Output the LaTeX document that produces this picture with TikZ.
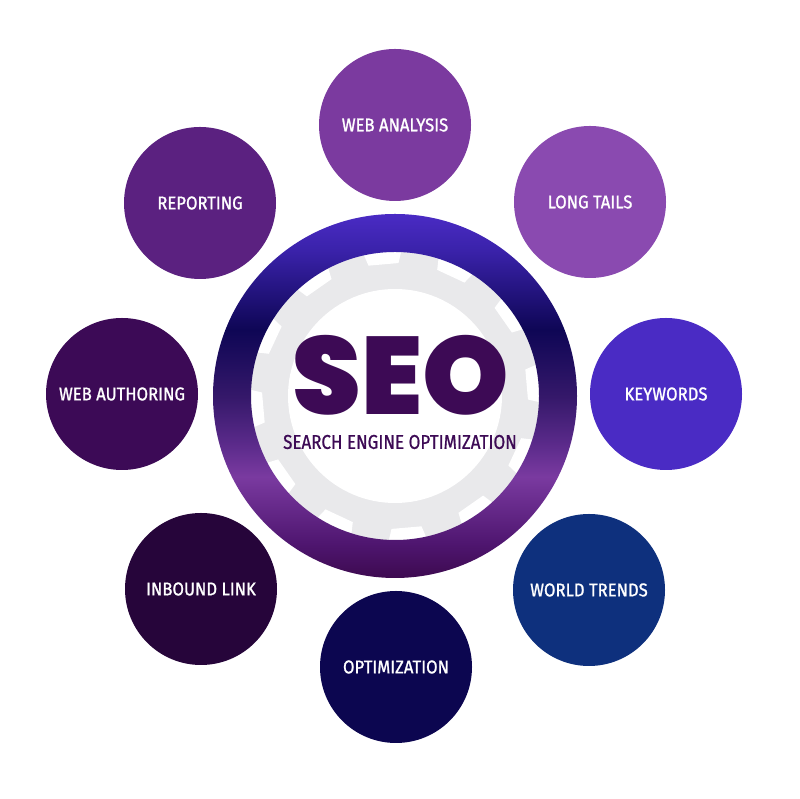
\documentclass[tikz,border=0pt]{standalone}
\usepackage{fontspec}
\newfontfamily\labelfont{Fira Sans}[FakeStretch=0.9, FakeBold=1.2]
\newfontfamily\subfont{Fira Sans}[FakeStretch=0.85, FakeBold=0.8]
\newfontfamily\seofont{Poppins Black}

\definecolor{analysis}{HTML}{7B3A9F}
\definecolor{tails}{HTML}{8A4AB0}
\definecolor{keywords}{HTML}{4A2BC4}
\definecolor{trends}{HTML}{0E307D}
\definecolor{optim}{HTML}{0C0650}
\definecolor{inbound}{HTML}{26053A}
\definecolor{authoring}{HTML}{3C0A56}
\definecolor{reporting}{HTML}{5B2180}
\definecolor{seotext}{HTML}{3D0A55}
\definecolor{gear}{HTML}{E9E9EB}

\definecolor{ringA}{HTML}{3D0A50}
\definecolor{ringB}{HTML}{4F1670}
\definecolor{ringC}{HTML}{7A3AA0}
\definecolor{ringD}{HTML}{5A2A8A}
\definecolor{ringE}{HTML}{35186A}
\definecolor{ringF}{HTML}{0E0655}
\definecolor{ringG}{HTML}{3A22AA}
\definecolor{ringH}{HTML}{4A2BC4}

\pgfdeclareverticalshading{ringshade}{100bp}{color(0bp)=(ringA); color(25bp)=(ringA);
  color(29.8bp)=(ringB); color(38.9bp)=(ringC); color(43.5bp)=(ringD);
  color(49.9bp)=(ringE); color(59.1bp)=(ringF); color(70bp)=(ringG);
  color(75bp)=(ringH); color(100bp)=(ringH)}

\tikzset{
  bubble/.style={circle, minimum size=152pt, inner sep=0pt, text=white,
    font=\labelfont\fontsize{18.5}{18.5}\selectfont}
}

\begin{document}
\begin{tikzpicture}[x=1pt,y=1pt]
  \useasboundingbox (0,0) rectangle (800,799);

  % gear behind the ring
  \begin{scope}[shift={(395,403)}]
    \fill[gear] (0,0) circle (146);
    \foreach \a in {5,35,...,335}
      \fill[white] (\a-6.5:133) -- (\a+6.5:133) -- (\a+8:152) -- (\a-8:152) -- cycle;
    \fill[white] (0,0) circle (107);
    \shade[shading=ringshade, even odd rule] (0,0) circle (182) (0,0) circle (144);
  \end{scope}

  \node[text=seotext, inner sep=0pt, font=\seofont\fontsize{110}{110}\selectfont] (seo) at (401,424) {SEO};
  \node[text=seotext, inner sep=0pt, font=\subfont\fontsize{20}{20}\selectfont] (subtitle) at (400,357) {SEARCH ENGINE OPTIMIZATION};

  \node[bubble, fill=analysis] (webanalysis) at (395,674) {WEB ANALYSIS};
  \node[bubble, fill=tails] (longtails) at (590,597) {LONG TAILS};
  \node[bubble, fill=keywords] (keywords) at (666,405) {KEYWORDS};
  \node[bubble, fill=trends] (worldtrends) at (589,209) {WORLD TRENDS};
  \node[bubble, fill=optim] (optimization) at (396,132) {OPTIMIZATION};
  \node[bubble, fill=inbound] (inboundlink) at (201,210) {INBOUND LINK};
  \node[bubble, fill=authoring] (webauthoring) at (122,405) {WEB AUTHORING};
  \node[bubble, fill=reporting] (reporting) at (200,596) {REPORTING};
\end{tikzpicture}
\end{document}
